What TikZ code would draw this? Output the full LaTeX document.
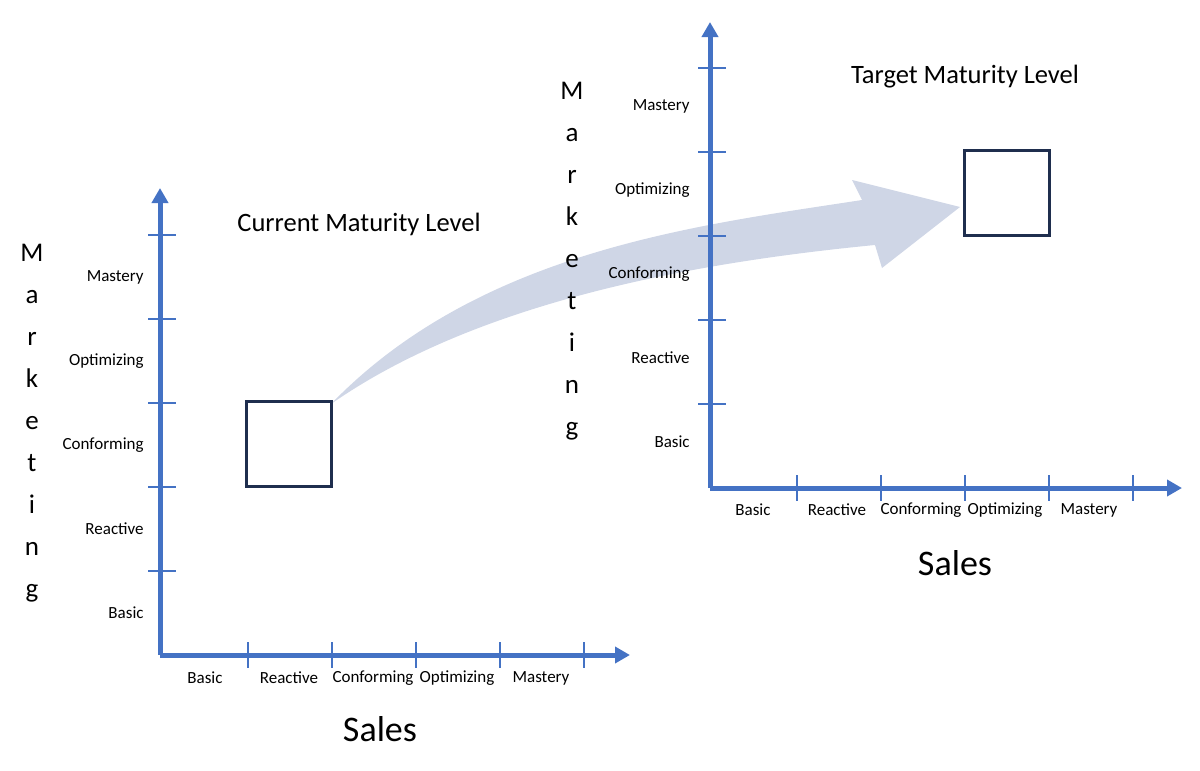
\documentclass[tikz,border=0pt]{standalone}
\usepackage{fontspec}
\setmainfont{Carlito}
\usetikzlibrary{arrows.meta}
\definecolor{axisblue}{RGB}{68,114,196}
\definecolor{boxnavy}{RGB}{31,46,78}
\definecolor{flowgrey}{RGB}{207,214,230}
\tikzset{every picture/.style={line width=0.75pt}}
\tikzset{
  axis/.style={color=axisblue,line width=5,-{Triangle[length=15,width=16]}},
  tick/.style={color=axisblue,line width=1.8},
  level/.style={inner sep=0,font=\fontsize{17}{19}\selectfont},
  vert/.style={inner sep=0,align=center,font=\fontsize{27}{42}\selectfont},
  title/.style={inner sep=0,font=\fontsize{26.5}{30}\selectfont},
  sales/.style={inner sep=0,font=\fontsize{36}{40}\selectfont},
  maturity/.style={draw=boxnavy,line width=3}
}
\begin{document}
\begin{tikzpicture}[x=1pt,y=1pt,yscale=-1,xscale=1]
\useasboundingbox (0,0) rectangle (1200,771);

% Curved flow arrow
\fill [flowgrey] (331,404) .. controls (480,250) and (700,225) .. (862,200) -- (852,180) -- (960,207) -- (882,268) -- (875,245) .. controls (700,262) and (480,300) .. (331,404) -- cycle;

% Current axes
\coordinate (o1) at (160,655);
\coordinate (y1) at (160,188);
\coordinate (x1) at (630,655);
\draw [axis] (o1) -- (y1);
\draw [axis] (o1) -- (x1);
\foreach \k in {1,...,5}{
  \draw [tick] (148,655-84*\k) -- (176,655-84*\k);
  \draw [tick] (164+84*\k,642) -- (164+84*\k,668);
}
\foreach \lab [count=\k] in {Basic,Reactive,Conforming,Optimizing,Mastery}{
  \node [level,anchor=east] (cm\k) at (144,697-84*\k) {\lab};
  \node [level] (cs\k) at (121+84*\k,678) {\lab};
}
\node [maturity,minimum size=85,inner sep=0] (cur) at (288.5,444) {};
\node [vert] (mk1) at (32,423) {M\\a\\r\\k\\e\\t\\i\\n\\g};
\node [title] (t1) at (359,224) {Current Maturity Level};
\node [sales] (s1) at (380,729) {Sales};

% Target axes
\coordinate (o2) at (710,488);
\coordinate (y2) at (710,22);
\coordinate (x2) at (1182,488);
\draw [axis] (o2) -- (y2);
\draw [axis] (o2) -- (x2);
\foreach \k in {1,...,5}{
  \draw [tick] (698,488-84*\k) -- (726,488-84*\k);
  \draw [tick] (713+84*\k,475) -- (713+84*\k,501);
}
\foreach \lab [count=\k] in {Basic,Reactive,Conforming,Optimizing,Mastery}{
  \node [level,anchor=east] (tm\k) at (690,526-84*\k) {\lab};
  \node [level] (ts\k) at (669+84*\k,510) {\lab};
}
\node [maturity,minimum size=85,inner sep=0] (tgt) at (1006.5,192.5) {};
\node [vert] (mk2) at (572,261) {M\\a\\r\\k\\e\\t\\i\\n\\g};
\node [title] (t2) at (965,77) {Target Maturity Level};
\node [sales] (s2) at (955,563) {Sales};

\end{tikzpicture}
\end{document}
